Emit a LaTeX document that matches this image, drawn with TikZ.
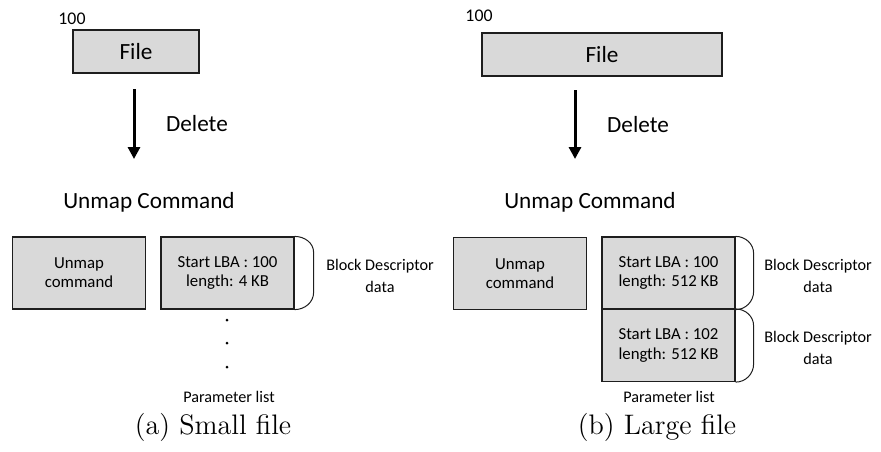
\documentclass[tikz,border=0pt]{standalone}
\usepackage{fontspec}
\usepackage{tikz}
\usetikzlibrary{arrows.meta,positioning,calc}
\newfontfamily\carlito{Carlito}
\definecolor{boxGray}  {RGB}{217,217,217}
\definecolor{lineDark} {RGB}{30, 30, 30}

\tikzset{
  filebox/.style={draw=lineDark,fill=boxGray,line width=0.6pt,minimum height=21.5pt,
                  inner sep=0pt,font=\carlito\fontsize{11.6}{14}\selectfont},
  cellbox/.style={draw=lineDark,fill=boxGray,line width=0.6pt,minimum width=66.5pt,
                  minimum height=36pt,inner sep=0pt,align=center,
                  font=\carlito\fontsize{8.4}{9.6}\selectfont},
  bigtext/.style={font=\carlito\fontsize{11.6}{14}\selectfont},
  smalltext/.style={font=\carlito\fontsize{8.1}{11}\selectfont,align=center},
  deletearrow/.style={-{Triangle[length=6pt,width=6pt]},line width=1.5pt},
  bracket/.style={line width=0.5pt,lineDark},
  caption/.style={font=\fontsize{14.1}{17}\selectfont}
}

\begin{document}
\begin{tikzpicture}[x=0.5pt,y=-0.5pt]
    \useasboundingbox (0,0) rectangle (881,451);

    % (a) Small file
    \node[font=\carlito\fontsize{8.9}{10}\selectfont] (lbaA) at (72,19) {100};
    \node[filebox,minimum width=63pt] (fileA) at (136,51.5) {File};
    \coordinate (delA-top) at (134,89);
    \coordinate (delA-end) at (134,159);
    \draw[deletearrow] (delA-top) -- (delA-end)
      node[midway,right=12pt,bigtext] (delA) {Delete};
    \node[bigtext] (titleA) at (149,202) {Unmap Command};
    \node[cellbox] (cmdA) at (79,273) {Unmap\\command};
    \node[cellbox] (paramA) at (227.5,273) {Start LBA : 100\\length: 4 KB};
    \draw[bracket] (paramA.north east) to[out=0,in=90] ++(19,16) -- ++(0,40)
      to[out=-90,in=0] (paramA.south east);
    \node[smalltext] (descA) at (380,276) {Block Descriptor\\data};
    \foreach \y in {320,343,367}{
      \fill (227,\y) circle (0.75pt);
    }
    \node[smalltext] (plistA) at (229,397) {Parameter list};
    \node[caption] (capA) at (213,427) {(a) Small file};

    % (b) Large file
    \node[font=\carlito\fontsize{8.9}{10}\selectfont] (lbaB) at (479,16) {100};
    \node[filebox,minimum width=120pt] (fileB) at (602,54.5) {File};
    \coordinate (delB-top) at (575,90);
    \coordinate (delB-end) at (575,159);
    \draw[deletearrow] (delB-top) -- (delB-end)
      node[midway,right=12pt,bigtext] (delB) {Delete};
    \node[bigtext] (titleB) at (590,202) {Unmap Command};
    \node[cellbox] (cmdB) at (520,273.5) {Unmap\\command};
    \node[cellbox] (paramB1) at (668.5,273) {Start LBA : 100\\length: 512 KB};
    \node[cellbox] (paramB2) at (668.5,345.5) {Start LBA : 102\\length: 512 KB};
    \foreach \p in {paramB1,paramB2}{
      \draw[bracket] (\p.north east) to[out=0,in=90] ++(18,17) -- ++(0,38)
        to[out=-90,in=0] (\p.south east);
    }
    \node[smalltext] (descB1) at (818,276) {Block Descriptor\\data};
    \node[smalltext] (descB2) at (818,348) {Block Descriptor\\data};
    \node[smalltext] (plistB) at (669,397) {Parameter list};
    \node[caption] (capB) at (657,427) {(b) Large file};

\end{tikzpicture}
\end{document}
